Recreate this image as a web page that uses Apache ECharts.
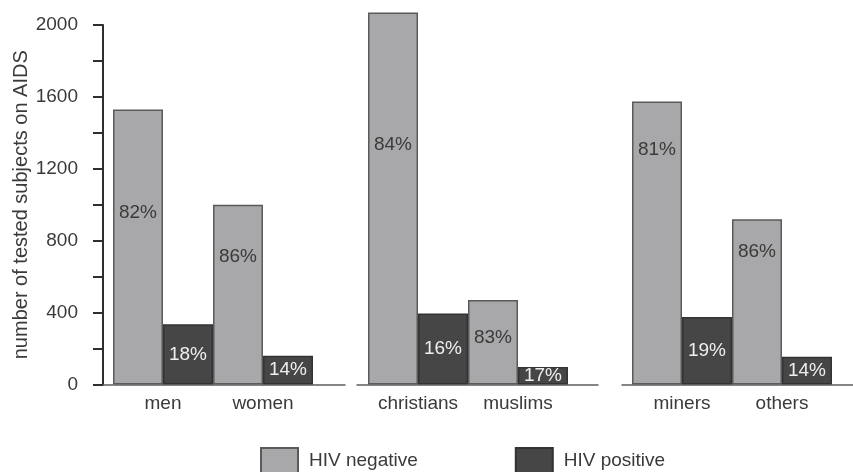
<!DOCTYPE html>
<html>
<head>
<meta charset="utf-8">
<script src="https://cdn.jsdelivr.net/npm/echarts@6/dist/echarts.min.js"></script>
<style>
  html, body { margin: 0; padding: 0; background: #ffffff; }
  #chart { width: 853px; height: 472px; }
</style>
</head>
<body>
<div id="chart"></div>
<script>
// Tested subjects on AIDS, split by HIV result, in three comparison panels
const panelCategories = [
  ['men', 'women'],
  ['christians', 'muslims'],
  ['miners', 'others']
];
const hivNegative = [
  [1530, 1000],
  [2070, 470],
  [1575, 920]
];
const hivPositive = [
  [335, 160],
  [395, 97],
  [375, 155]
];
const yTicks = [0, 400, 800, 1200, 1600, 2000];
const seriesNames = ['HIV negative', 'HIV positive'];

// where each percentage sits below the top of its HIV-negative bar (px)
const negLabelDrop = [
  [94, 43],
  [123, 28],
  [39, 23]
];

const FONT = 'Liberation Sans, Arial, Helvetica, sans-serif';
const TEXT = '#3a3a3a';
const NEG_FILL = '#a8a8aa';
const POS_FILL = '#464646';

// bar panels and the wider baseline strips under them
const barGrids = [
  { left: 113, width: 200 },
  { left: 368, width: 200 },
  { left: 632, width: 200 }
];
const baseGrids = [
  { left: 103, width: 242 },
  { left: 357, width: 241 },
  { left: 622, width: 231 }
];
const TOP = 25, BOTTOM = 87.5;

const grid = [];
const xAxis = [];
const yAxis = [];
const series = [];

function pct(a, b) { return Math.round(100 * a / (a + b)) + '%'; }

barGrids.forEach((g, p) => {
  grid.push({ left: g.left, width: g.width, top: TOP, bottom: BOTTOM, containLabel: false });
  xAxis.push({
    type: 'category', gridIndex: p, data: panelCategories[p],
    axisLine: { show: false }, axisTick: { show: false },
    axisLabel: { interval: 0, hideOverlap: false, color: TEXT, fontSize: 19, fontFamily: FONT, margin: 10 }
  });
  yAxis.push(p === 0 ? {
    type: 'value', gridIndex: p, min: 0, max: 2000, interval: 200, offset: 10,
    name: 'number of tested subjects on AIDS', nameLocation: 'middle', nameRotate: 90, nameGap: 66,
    nameTextStyle: { color: TEXT, fontSize: 20, fontFamily: FONT },
    axisLine: { show: true, lineStyle: { color: '#2e2e2e', width: 2 } },
    axisTick: { show: true, length: 10, lineStyle: { color: '#2e2e2e', width: 2 } },
    axisLabel: {
      color: TEXT, fontSize: 19, fontFamily: FONT, margin: 25,
      formatter: v => (yTicks.indexOf(v) >= 0 ? String(v) : '')
    },
    splitLine: { show: false }
  } : {
    type: 'value', gridIndex: p, min: 0, max: 2000, interval: 200, show: false
  });

  const neg = hivNegative[p], pos = hivPositive[p];
  series.push({
    name: seriesNames[0], type: 'bar', xAxisIndex: p, yAxisIndex: p,
    barGap: '0%', barCategoryGap: '0%', clip: false,
    itemStyle: { color: NEG_FILL, borderColor: '#5a5a5a', borderWidth: 1.5 },
    data: neg.map((v, i) => ({
      value: v,
      label: { distance: negLabelDrop[p][i] }
    })),
    label: {
      show: true, position: 'insideTop', color: '#3a3a3a', fontSize: 19, fontFamily: FONT,
      formatter: d => pct(neg[d.dataIndex], pos[d.dataIndex])
    }
  });
  series.push({
    name: seriesNames[1], type: 'bar', xAxisIndex: p, yAxisIndex: p,
    barGap: '0%', barCategoryGap: '0%', clip: false,
    itemStyle: { color: POS_FILL, borderColor: '#333333', borderWidth: 1.5 },
    data: pos.slice(),
    label: {
      show: true, position: 'inside', color: '#eeeeee', fontSize: 19, fontFamily: FONT,
      formatter: d => pct(pos[d.dataIndex], neg[d.dataIndex])
    }
  });
});

// baseline strips: axis line only
baseGrids.forEach((g) => {
  const gi = grid.length;
  grid.push({ left: g.left, width: g.width, top: TOP, bottom: BOTTOM });
  xAxis.push({
    type: 'value', gridIndex: gi, min: 0, max: 1,
    axisLine: { show: true, lineStyle: { color: '#5e5e5e', width: 1.5 } },
    axisTick: { show: false }, axisLabel: { show: false }, splitLine: { show: false }
  });
  yAxis.push({ type: 'value', gridIndex: gi, min: 0, max: 1, show: false });
});

const chart = echarts.init(document.getElementById('chart'), null, { renderer: 'canvas' });
chart.setOption({
  animation: false,
  backgroundColor: '#ffffff',
  textStyle: { fontFamily: FONT },
  grid, xAxis, yAxis, series,
  legend: {
    data: seriesNames, left: 260, top: 447, padding: 0,
    itemWidth: 37, itemHeight: 25, itemGap: 97,
    icon: 'rect',
    textStyle: { color: TEXT, fontSize: 19, fontFamily: FONT, padding: [0, 0, 0, 6] }
  }
});
</script>
</body>
</html>
